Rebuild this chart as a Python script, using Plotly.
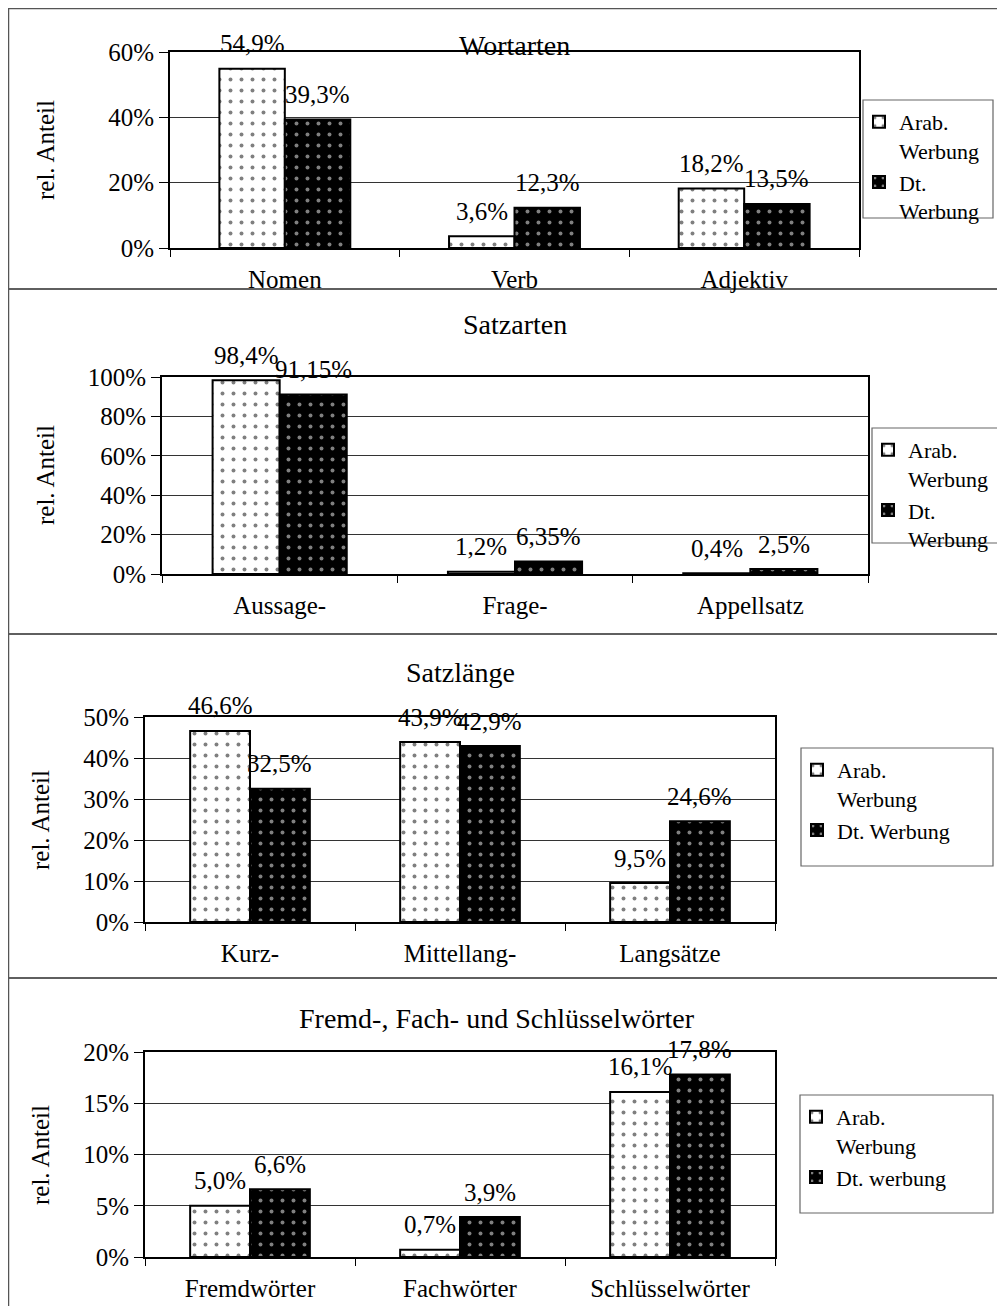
import plotly.graph_objects as go

# ---------------- data ----------------
titles = ["Wortarten", "Satzarten", "Satzlänge", "Fremd-, Fach- und Schlüsselwörter"]
cats1 = ["Nomen", "Verb", "Adjektiv"]
arab1 = [54.9, 3.6, 18.2]
dt1 = [39.3, 12.3, 13.5]

cats2 = ["Aussage-", "Frage-", "Appellsatz"]
arab2 = [98.4, 1.2, 0.4]
dt2 = [91.15, 6.35, 2.5]

cats3 = ["Kurz-", "Mittellang-", "Langsätze"]
arab3 = [46.6, 43.9, 9.5]
dt3 = [32.5, 42.9, 24.6]

cats4 = ["Fremdwörter", "Fachwörter", "Schlüsselwörter"]
arab4 = [5.0, 0.7, 16.1]
dt4 = [6.6, 3.9, 17.8]

ymax = [60, 100, 50, 20]
ydtick = [20, 20, 10, 5]
arab_names = ["Arab.<br>Werbung"] * 4
dt_names = ["Dt.<br>Werbung", "Dt.<br>Werbung", "Dt. Werbung", "Dt. werbung"]

# ---------------- layout geometry (page pixels of the reference) ----------------
PAGE_W, PAGE_H = 1005, 1306
OFF = 8  # default body margin of the html page
W, H = PAGE_W - OFF, PAGE_H - OFF
FONT = "Liberation Serif"
FS = 25
# plot areas: x0, x1, ytop(max value), ybottom(0)
plots = [(170, 859, 52, 248), (162, 868, 377, 574), (145, 775, 717, 922), (145, 775, 1052, 1257)]
frames = [(8.5, 8.5, 1003, 289), (8.5, 289, 1003, 634), (8.5, 634, 1003, 978), (8.5, 978, 1003, 1310)]
legend_boxes = [(863, 100, 993, 218), (872, 428, 1004, 543), (801, 748, 993, 866), (800, 1095, 993, 1213)]
title_pos = [(514, 45), (515, 325), (460, 672), (497, 1018)]
ytitle_pos = [(45, 150), (45, 475), (40, 820), (40, 1155)]
BARGAP = 0.43


def px(x):
    return (x - OFF) / W


def py(y):
    return 1 - (y - OFF) / H


fig = go.Figure()
annotations = []
shapes = []
layout_axes = {}

data = [(cats1, arab1, dt1), (cats2, arab2, dt2), (cats3, arab3, dt3), (cats4, arab4, dt4)]


def fmt(v):
    return str(v).replace(".", ",") + "%"


for i, (cats, arab, dt) in enumerate(data):
    n = i + 1
    xa = "x" if n == 1 else f"x{n}"
    ya = "y" if n == 1 else f"y{n}"
    lg = "legend" if n == 1 else f"legend{n}"
    fig.add_trace(go.Bar(
        x=cats, y=arab, name=arab_names[i], xaxis=xa, yaxis=ya, legend=lg,
        marker=dict(color="white", line=dict(color="black", width=2),
                    pattern=dict(shape=".", bgcolor="white", fgcolor="black",
                                 size=11, solidity=0.1, fillmode="overlay")),
    ))
    fig.add_trace(go.Bar(
        x=cats, y=dt, name=dt_names[i], xaxis=xa, yaxis=ya, legend=lg,
        marker=dict(color="black", line=dict(color="black", width=2),
                    pattern=dict(shape=".", bgcolor="black", fgcolor="white",
                                 size=11, solidity=0.1, fillmode="overlay")),
    ))
    x0, x1, yt, yb = plots[i]
    xkey = "xaxis" if n == 1 else f"xaxis{n}"
    ykey = "yaxis" if n == 1 else f"yaxis{n}"
    layout_axes[xkey] = dict(
        domain=[px(x0), px(x1)], anchor=ya, showline=True, linecolor="black", linewidth=2,
        mirror=True, ticks="outside", tickson="boundaries", ticklen=7, tickcolor="black",
        tickfont=dict(family=FONT, size=FS, color="black"), ticklabelstandoff=8,
        showgrid=False, fixedrange=True,
    )
    layout_axes[ykey] = dict(
        domain=[py(yb), py(yt)], anchor=xa, range=[0, ymax[i]], dtick=ydtick[i], tick0=0,
        ticksuffix="%", showline=True, linecolor="black", linewidth=2, mirror=True,
        ticks="outside", ticklen=9, tickcolor="black",
        showgrid=True, gridcolor="#333333", gridwidth=1, zeroline=False,
        tickfont=dict(family=FONT, size=FS, color="black"), fixedrange=True,
    )
    # value labels
    barpx = (x1 - x0) / 3 * (1 - BARGAP) / 2
    for c, va, vd in zip(cats, arab, dt):
        for v, sh in ((va, -barpx / 2), (vd, barpx / 2)):
            annotations.append(dict(
                x=c, y=v, xref=xa, yref=ya, text=fmt(v), showarrow=False,
                xshift=sh, yshift=25, yanchor="middle", xanchor="center",
                font=dict(family=FONT, size=FS, color="black"),
            ))
    # title
    tx, ty = title_pos[i]
    annotations.append(dict(
        x=px(tx), y=py(ty), xref="paper", yref="paper", text=titles[i], showarrow=False,
        xanchor="center", yanchor="middle", font=dict(family=FONT, size=28, color="black"),
    ))
    # y title
    ax_, ay_ = ytitle_pos[i]
    annotations.append(dict(
        x=px(ax_), y=py(ay_), xref="paper", yref="paper", text="rel. Anteil", showarrow=False,
        textangle=-90, xanchor="center", yanchor="middle",
        font=dict(family=FONT, size=FS, color="black"),
    ))
    # frames
    fx0, fy0, fx1, fy1 = frames[i]
    shapes.append(dict(type="rect", xref="paper", yref="paper", x0=px(fx0), x1=px(fx1),
                       y0=py(fy1), y1=py(fy0), line=dict(color="#555555", width=1.5), layer="below"))
    # legend boxes
    lx0, ly0, lx1, ly1 = legend_boxes[i]
    shapes.append(dict(type="rect", xref="paper", yref="paper", x0=px(lx0), x1=px(lx1),
                       y0=py(ly1), y1=py(ly0), line=dict(color="#666666", width=1.2), layer="below"))
    layout_axes[lg] = dict(
        x=px(lx0 - 4), y=py(ly0 + 1), xanchor="left", yanchor="top",
        bgcolor="rgba(0,0,0,0)", borderwidth=0, valign="top", tracegroupgap=0,
        font=dict(family=FONT, size=22, color="black"), itemwidth=30,
    )

fig.update_layout(
    width=W, height=H, margin=dict(l=0, r=0, t=0, b=0, autoexpand=False),
    paper_bgcolor="white", plot_bgcolor="white",
    barmode="group", bargap=BARGAP, bargroupgap=0,
    showlegend=True, annotations=annotations, shapes=shapes,
    font=dict(family=FONT, size=FS, color="black"),
    **layout_axes,
)

fig.write_html("out.html")
